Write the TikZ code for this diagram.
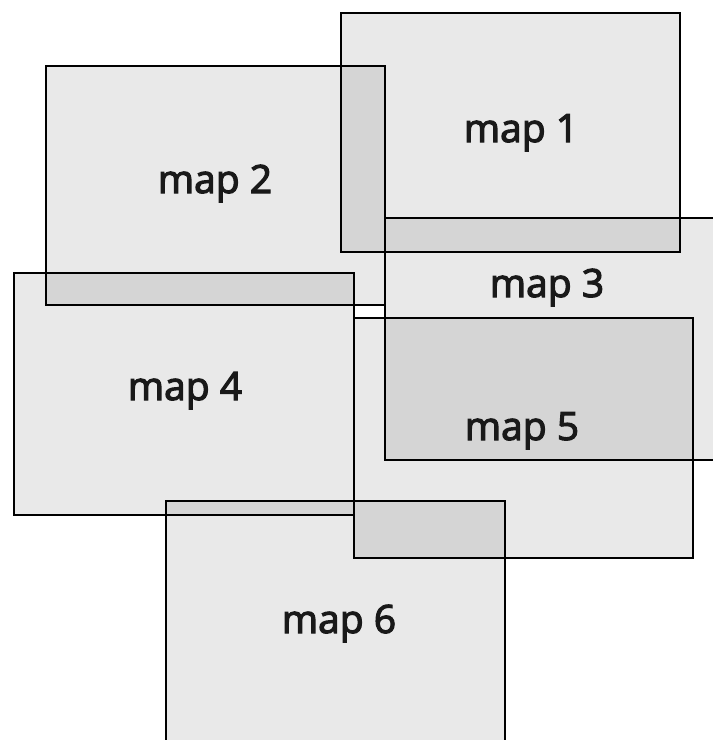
\documentclass[tikz,border=0pt]{standalone}
\usepackage{fontspec}
\setmainfont{Open Sans}
\newfontfamily\maplabfont[FakeBold=3]{Open Sans}
\begin{document}
\begin{tikzpicture}[x=1pt,y=-1pt,
  mapbox/.style={fill=black,fill opacity=0.085},
  mapedge/.style={draw=black,line width=2.6pt},
  maplabel/.style={anchor=base,font=\maplabfont\fontsize{39}{42}\selectfont,text=black!90}]
\useasboundingbox (0,0) rectangle (713,740);
\clip (0,0) rectangle (713,740);
% fills
\fill[mapbox] (341,13) rectangle (680,252);
\fill[mapbox] (46,66) rectangle (385,305);
\fill[mapbox] (385,218) rectangle (730,460);
\fill[mapbox] (14,273) rectangle (354,515);
\fill[mapbox] (354,318) rectangle (693,558);
\fill[mapbox] (166,501) rectangle (505,760);
% edges
\draw[mapedge] (341,13) rectangle (680,252);
\draw[mapedge] (46,66) rectangle (385,305);
\draw[mapedge] (385,218) rectangle (730,460);
\draw[mapedge] (14,273) rectangle (354,515);
\draw[mapedge] (354,318) rectangle (693,558);
\draw[mapedge] (166,501) rectangle (505,760);
% labels
\node[maplabel] (l1) at (521,142) {map 1};
\node[maplabel] (l2) at (215,193) {map 2};
\node[maplabel] (l3) at (547,297) {map 3};
\node[maplabel] (l4) at (185,400) {map 4};
\node[maplabel] (l5) at (522,440) {map 5};
\node[maplabel] (l6) at (339,633) {map 6};
\end{tikzpicture}
\end{document}
